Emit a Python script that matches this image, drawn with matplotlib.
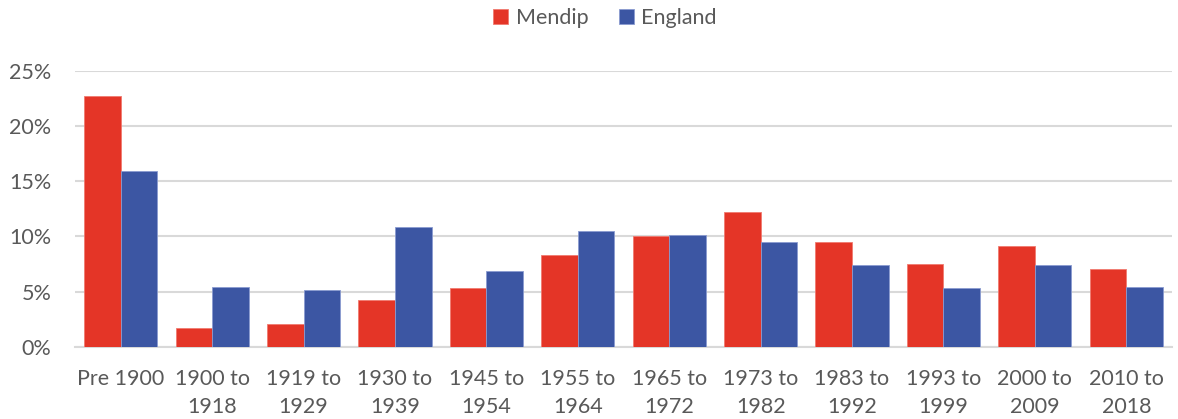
import matplotlib.pyplot as plt
import numpy as np
from matplotlib.ticker import PercentFormatter

categories = ["Pre 1900", "1900 to\n1918", "1919 to\n1929", "1930 to\n1939", "1945 to\n1954",
              "1955 to\n1964", "1965 to\n1972", "1973 to\n1982", "1983 to\n1992",
              "1993 to\n1999", "2000 to\n2009", "2010 to\n2018"]
mendip = [22.7, 1.75, 2.1, 4.25, 5.35, 8.3, 10.0, 12.2, 9.5, 7.5, 9.15, 7.1]
england = [15.95, 5.4, 5.15, 10.85, 6.9, 10.5, 10.1, 9.5, 7.4, 5.3, 7.4, 5.4]

plt.rcParams["font.family"] = ["Lato", "DejaVu Sans"]
grey = "#595959"

fig = plt.figure(figsize=(11.78, 4.19), dpi=100)
ax = fig.add_axes([75 / 1178, 1 - 347 / 419, (1172 - 75) / 1178, (347 - 70.7) / 419])

x = np.arange(len(categories))
w = 0.4
ax.bar(x - w / 2, mendip, w, color="#E43527", edgecolor="#F07A70", linewidth=0.6,
       label="Mendip", zorder=3)
ax.bar(x + w / 2, england, w, color="#3C56A3", edgecolor="#8A9BD0", linewidth=0.6,
       label="England", zorder=3)

ax.set_xlim(-0.5, len(categories) - 0.5)
ax.set_ylim(0, 25)
ax.set_yticks([0, 5, 10, 15, 20, 25])
ax.yaxis.set_major_formatter(PercentFormatter(decimals=0))
ax.grid(axis="y", color="#D9D9D9", linewidth=1.5, zorder=0)
for s in ["top", "right", "left"]:
    ax.spines[s].set_visible(False)
ax.spines["bottom"].set_color("#D9D9D9")
ax.spines["bottom"].set_linewidth(1.5)

ax.set_xticks(x)
ax.set_xticklabels(categories, linespacing=1.5)
ax.tick_params(axis="both", length=0, labelsize=15.5, colors=grey)
ax.tick_params(axis="x", pad=16)
ax.tick_params(axis="y", pad=17)

fig.legend(loc="center", bbox_to_anchor=(605 / 1178, 1 - 18 / 419), ncol=2, frameon=False,
           fontsize=15.5, labelcolor=grey, handlelength=0.7, handleheight=0.7,
           handletextpad=0.35, columnspacing=1.4)

fig.savefig("out.png", dpi=100)
